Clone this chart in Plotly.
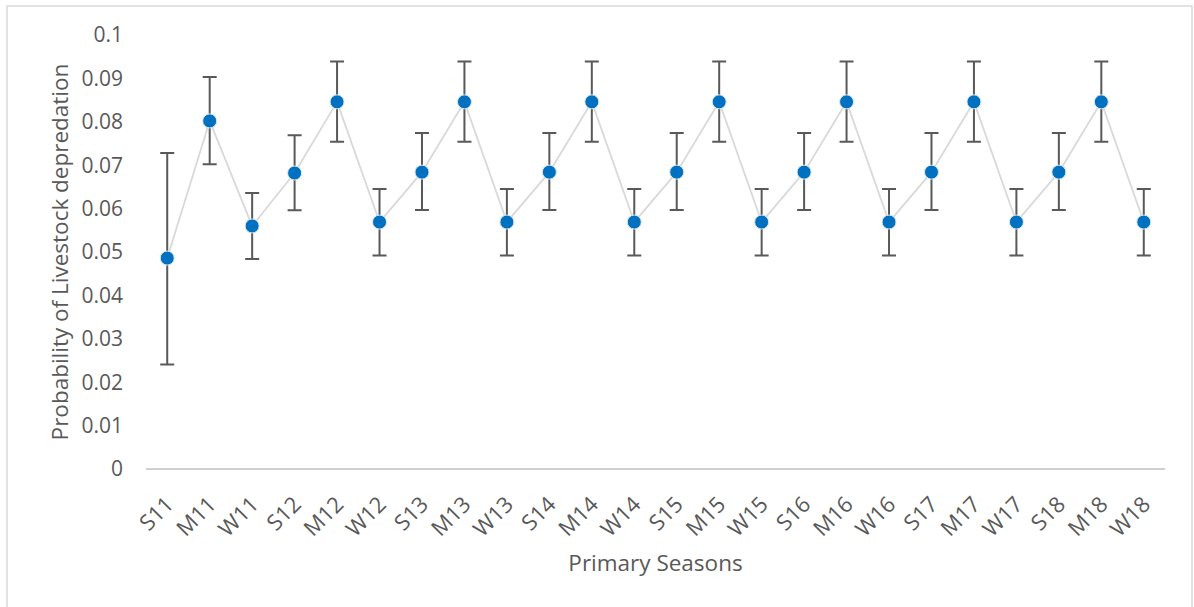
import plotly.graph_objects as go

# Seasonal categories (S = summer, M = monsoon, W = winter) for 2011-2018
seasons = ["S11", "M11", "W11", "S12", "M12", "W12", "S13", "M13", "W13",
           "S14", "M14", "W14", "S15", "M15", "W15", "S16", "M16", "W16",
           "S17", "M17", "W17", "S18", "M18", "W18"]

# Estimated probability of livestock depredation per season
probability = [0.0486, 0.0802, 0.0560, 0.0682, 0.0846, 0.0569, 0.0684, 0.0846, 0.0569,
               0.0684, 0.0846, 0.0569, 0.0684, 0.0846, 0.0569, 0.0684, 0.0846, 0.0569,
               0.0684, 0.0846, 0.0569, 0.0684, 0.0846, 0.0569]

# Upper and lower error (confidence interval half-widths)
err_upper = [0.0242, 0.0101, 0.0076, 0.0087, 0.0093, 0.0076, 0.0090, 0.0093, 0.0076,
             0.0090, 0.0093, 0.0076, 0.0090, 0.0093, 0.0076, 0.0090, 0.0093, 0.0076,
             0.0090, 0.0093, 0.0076, 0.0090, 0.0093, 0.0076]
err_lower = [0.0245, 0.0100, 0.0076, 0.0086, 0.0092, 0.0077, 0.0087, 0.0092, 0.0077,
             0.0087, 0.0092, 0.0077, 0.0087, 0.0092, 0.0077, 0.0087, 0.0092, 0.0077,
             0.0087, 0.0092, 0.0077, 0.0087, 0.0092, 0.0077]

y_ticks = [0, 0.01, 0.02, 0.03, 0.04, 0.05, 0.06, 0.07, 0.08, 0.09, 0.1]
y_tick_text = ["0", "0.01", "0.02", "0.03", "0.04", "0.05", "0.06", "0.07", "0.08", "0.09", "0.1"]

FONT = "Open Sans"
TEXT_COLOR = "#595959"

fig = go.Figure()
fig.add_trace(go.Scatter(
    x=seasons,
    y=probability,
    mode="lines+markers",
    line=dict(color="#D9D9D9", width=1.8),
    marker=dict(color="#0070C0", size=14, line=dict(color="#DDE8F3", width=1)),
    error_y=dict(type="data", symmetric=False, array=err_upper, arrayminus=err_lower,
                 color="#595959", thickness=2, width=7),
    showlegend=False,
))

fig.update_layout(
    width=1194,
    height=607,
    margin=dict(l=146, r=29, t=35, b=138),
    paper_bgcolor="white",
    plot_bgcolor="white",
    font=dict(family=FONT, color=TEXT_COLOR, size=21),
    xaxis=dict(
        type="category",
        tickangle=-45,
        showgrid=False,
        showline=False,
        zeroline=False,
        ticklabelstandoff=17,
        tickfont=dict(size=22, color=TEXT_COLOR),
        title=dict(text="Primary Seasons", font=dict(size=22.5, color=TEXT_COLOR), standoff=14),
        range=[-0.5, len(seasons) - 0.5],
    ),
    yaxis=dict(
        range=[0, 0.1],
        tickvals=y_ticks,
        ticktext=y_tick_text,
        showgrid=False,
        zeroline=True,
        zerolinecolor="#D0D0D0",
        zerolinewidth=2,
        showline=False,
        ticklabelstandoff=22,
        tickfont=dict(size=21, color=TEXT_COLOR),
        title=dict(text="Probability of Livestock depredation",
                   font=dict(size=22.5, color=TEXT_COLOR), standoff=6),
    ),
    shapes=[
        dict(type="rect", xref="paper", yref="paper",
             x0=-0.1364, x1=1.0265, y0=-0.33, y1=1.0668,
             line=dict(color="#D9D9D9", width=1.5), fillcolor="rgba(0,0,0,0)", layer="below"),
    ],
)

fig.write_html("out.html")
